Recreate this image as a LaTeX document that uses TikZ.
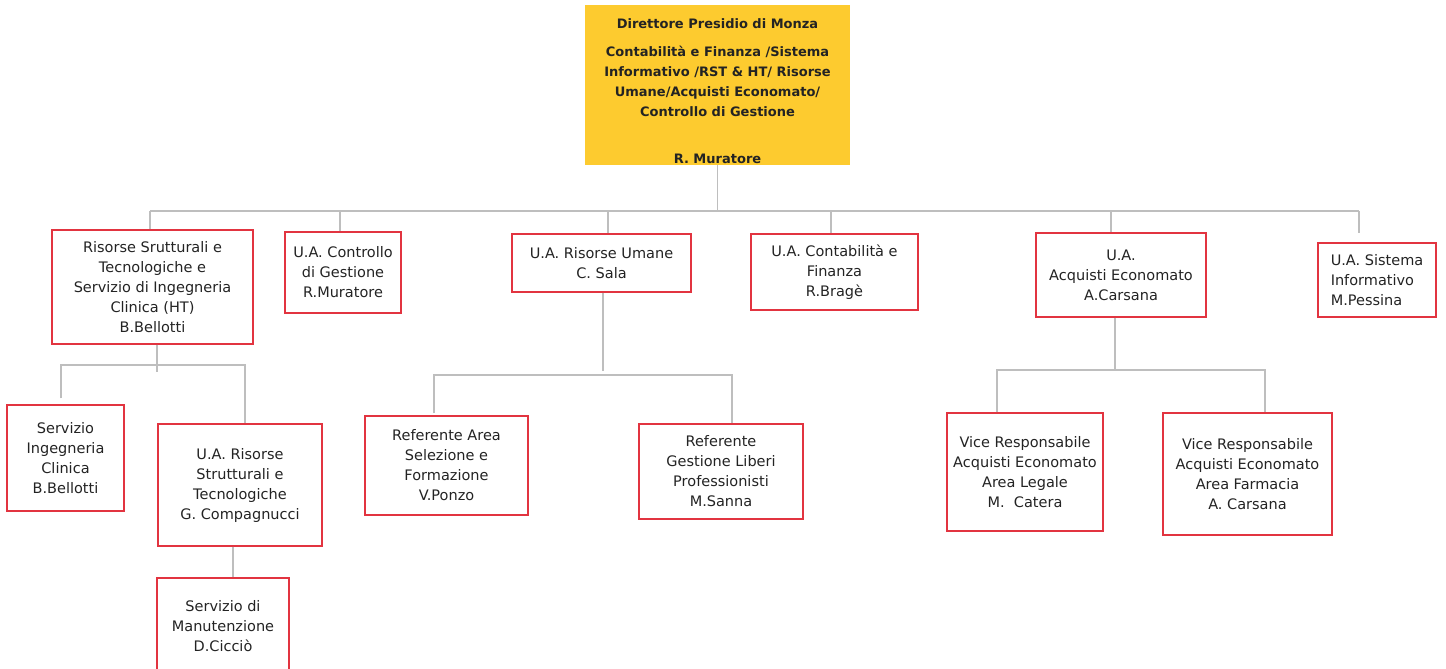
\documentclass[tikz,border=0pt]{standalone}
\usepackage{fontspec}
\setmainfont{DejaVu Sans}
\usepackage{tikz}
\usetikzlibrary{calc}
\usetikzlibrary{positioning}

\definecolor{unitred}{RGB}{226,52,64}
\definecolor{linegray}{RGB}{190,190,190}
\definecolor{dirgold}{RGB}{253,203,47}
\definecolor{txt}{RGB}{35,35,35}

\begin{document}
\begin{tikzpicture}[x=1pt,y=-1pt,
        unit/.style={draw=unitred, line width=1.2pt, text=txt, align=center,
            inner sep=0pt, font=\fontsize{14.5}{20}\selectfont},
        size/.style 2 args={minimum width=#1pt, minimum height=#2pt},
        link/.style={draw=linegray, line width=1.1pt}]
    \useasboundingbox (0,0) rectangle (1446,669);
    \clip (0,0) rectangle (1446,669);

    % direzione
    \node[fill=dirgold, text=txt, align=center, inner sep=0pt, size={265}{160},
          font=\bfseries\fontsize{13}{20}\selectfont] (dir) at (717.5,85)
        {\rule{0pt}{22pt}Direttore Presidio di Monza\\[8pt]
         Contabilit\`a e Finanza /Sistema\\
         Informativo /RST \& HT/ Risorse\\
         Umane/Acquisti Economato/\\
         Controllo di Gestione\\[27pt]
         R. Muratore};

    % primo livello
    \node[unit, size={201}{114}] (rst) at (152.5,287)
        {Risorse Srutturali e\\Tecnologiche e\\Servizio di Ingegneria\\Clinica (HT)\\B.Bellotti};
    \node[unit, size={116}{81}] (cdg) at (343,272.5)
        {U.A. Controllo\\di Gestione\\R.Muratore};
    \node[unit, size={179}{58}] (rum) at (601.5,263)
        {U.A. Risorse Umane\\C. Sala};
    \node[unit, size={167}{76}] (cfin) at (834.5,272)
        {U.A. Contabilit\`a e\\Finanza\\R.Brag\`e};
    \node[unit, size={170}{84}] (acq) at (1121,275)
        {U.A.\\Acquisti Economato\\A.Carsana};
    \node[unit, size={118}{74}, align=left] (sis) at (1377,280)
        {U.A. Sistema\\Informativo\\M.Pessina};

    % secondo livello
    \node[unit, size={117}{106}] (sic) at (65.5,458)
        {Servizio\\Ingegneria\\Clinica\\B.Bellotti};
    \node[unit, size={164}{122}] (urst) at (240,485)
        {U.A. Risorse\\Strutturali e\\Tecnologiche\\G. Compagnucci};
    \node[unit, size={132}{96}] (man) at (223,626)
        {Servizio di\\Manutenzione\\D.Cicci\`o};
    \node[unit, size={163}{99}] (rsel) at (446.5,465.5)
        {Referente Area\\Selezione e\\Formazione\\V.Ponzo};
    \node[unit, size={164}{95}] (rlib) at (721,471.5)
        {Referente\\Gestione Liberi\\Professionisti\\M.Sanna};
    \node[unit, size={156}{118}] (vleg) at (1025,472)
        {Vice Responsabile\\Acquisti Economato\\Area Legale\\M.~~Catera};
    \node[unit, size={169}{122}] (vfar) at (1247.5,474)
        {Vice Responsabile\\Acquisti Economato\\Area Farmacia\\A. Carsana};

    % collegamenti
    \coordinate (busW) at (150,211);
    \coordinate (busE) at (1359,211);
    \draw[link] (dir.south) -- (dir.south |- busW);
    \draw[link] (busW) -- (busE);
    \foreach \x/\n in {150/rst,340/cdg,608/rum,831/cfin,1111/acq} {
        \draw[link] (\x,211) -- (\n.north -| \x,0);
    }
    \draw[link] (busE) -- ++(0,22) coordinate (sisTap);

    \coordinate (hubH) at (157,365);
    \draw[link] (rst.south -| hubH) -- ++(0,27);
    \draw[link] (sic.north -| 61,0) ++(0,-6) -- (61,365) -- (245,365) -- (urst.north -| 245,0);
    \draw[link] (urst.south -| 233,0) -- (man.north -| 233,0);

    \draw[link] (rum.south -| 603,0) -- (603,371);
    \draw[link] (rsel.north -| 434,0) ++(0,-2) -- (434,375) -- (732,375) -- (rlib.north -| 732,0) ++(0,0);

    \draw[link] (acq.south -| 1115,0) -- (1115,370);
    \draw[link] (vleg.north -| 997,0) -- (997,370) -- (1265,370) -- (vfar.north -| 1265,0);
\end{tikzpicture}
\end{document}
